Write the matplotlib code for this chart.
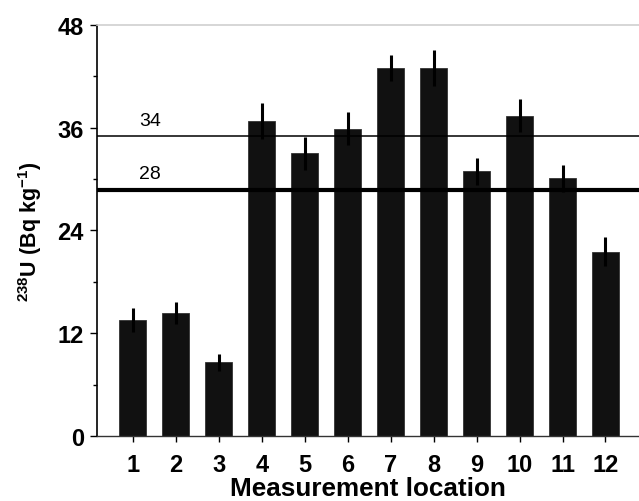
import matplotlib
matplotlib.use('Agg')
import matplotlib.pyplot as plt
import numpy as np

# activity of 238U per measurement location
locations = [1, 2, 3, 4, 5, 6, 7, 8, 9, 10, 11, 12]
u238 = [13.6, 14.4, 8.6, 36.8, 33.0, 35.9, 43.0, 43.0, 30.9, 37.4, 30.1, 21.5]
u238_err = [1.4, 1.3, 1.0, 2.1, 1.9, 1.9, 1.5, 2.1, 1.6, 1.9, 1.6, 1.7]

# reference levels and their tags
ref_levels = [35.0, 28.7]
ref_tags = ['34', '28']
ref_widths = [1.1, 3.0]

yticks = [0, 12, 24, 36, 48]

plt.rcParams['font.family'] = ['Liberation Sans', 'DejaVu Sans']
plt.rcParams['mathtext.fontset'] = 'custom'
plt.rcParams['mathtext.rm'] = 'Liberation Sans:bold'
plt.rcParams['mathtext.bf'] = 'Liberation Sans:bold'

fig = plt.figure(figsize=(6.39, 5.02), dpi=100)
ax = fig.add_axes([0.152, 0.1295, 0.848, 0.8187])

ax.bar(locations, u238, width=0.62, color='#111111', edgecolor='#333333', linewidth=0.6, zorder=2)
ax.errorbar(locations, u238, yerr=u238_err, fmt='none', ecolor='black', elinewidth=2.2, capsize=0, zorder=3)

for lvl, tag, lw in zip(ref_levels, ref_tags, ref_widths):
	ax.axhline(lvl, color='black', linewidth=lw, zorder=4)
	ax.text(1.4, lvl + 1.9, tag, fontsize=14, ha='center', va='center', zorder=5)

ax.set_xlim(0.17, 12.78)
ax.set_ylim(0, 48)
ax.set_xticks(locations)
ax.set_yticks(yticks)
ax.set_yticks([6, 18, 30, 42], minor=True)

for lbl in ax.get_xticklabels() + ax.get_yticklabels():
	lbl.set_fontweight('bold')
ax.tick_params(axis='x', labelsize=17, length=4.5, width=1, pad=7.5, direction='out')
ax.tick_params(axis='y', which='major', labelsize=17, length=5, width=1, pad=4.5, direction='out')
ax.tick_params(axis='y', which='minor', length=3, width=1, direction='out')

ax.spines['right'].set_visible(False)
ax.spines['top'].set_color('#d0d0d0')
ax.spines['top'].set_linewidth(1.2)
ax.spines['left'].set_linewidth(1.2)
ax.spines['bottom'].set_linewidth(1.0)
ax.spines['bottom'].set_color('#333333')

fig.text(368 / 639, 1 - 489 / 502, 'Measurement location', fontsize=18.8, fontweight='bold',
	ha='center', va='center')
fig.text(30 / 639, 1 - 232 / 502, r'$^{238}$U (Bq kg$^{-1}$)', fontsize=15.5, fontweight='bold',
	rotation=90, ha='center', va='center')

fig.savefig('out.png', dpi=100)
